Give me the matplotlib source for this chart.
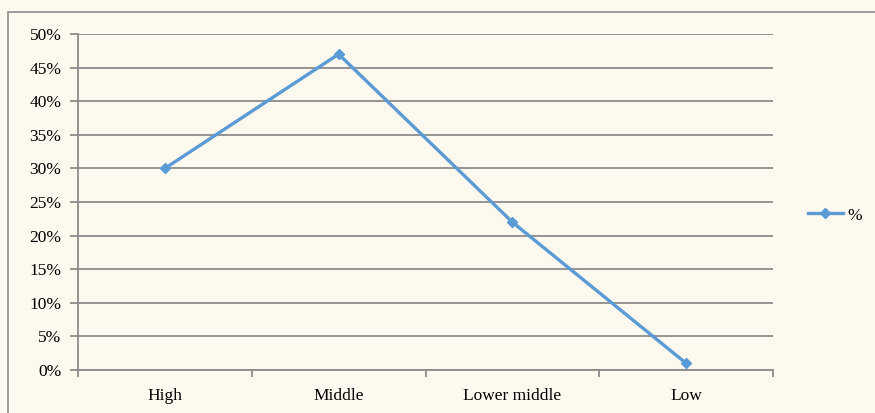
import matplotlib
matplotlib.use("Agg")
import matplotlib.pyplot as plt
from matplotlib.patches import Rectangle
from matplotlib.ticker import FuncFormatter, MultipleLocator

categories = ["High", "Middle", "Lower middle", "Low"]
share = [30, 47, 22, 1]
series_name = "%"

bg = "#FDF9EF"
grid_col = "#8C8C8C"
line_col = "#5B9BD5"

plt.rcParams["font.family"] = ["Liberation Serif", "DejaVu Serif"]

fig = plt.figure(figsize=(8.75, 4.13), dpi=100, facecolor=bg)
W, H = 875, 413

# outer chart frame
fig.patches.append(Rectangle((8 / W, -0.1), 1.0, (H - 12) / H + 0.1, transform=fig.transFigure,
                             facecolor=bg, edgecolor="#8C8C8C", linewidth=1.2, zorder=-5))

ax = fig.add_axes([78 / W, 1 - 370 / H, (773 - 78) / W, (370 - 34) / H])
ax.set_facecolor(bg)

x = list(range(len(categories)))
ax.plot(x, share, color=line_col, linewidth=2.4, marker="D", markersize=5,
        label=series_name, zorder=3)

ax.set_xlim(-0.5, len(categories) - 0.5)
ax.set_ylim(0, 50)
ax.yaxis.set_major_locator(MultipleLocator(5))
ax.yaxis.set_major_formatter(FuncFormatter(lambda v, p: f"{int(v)}%"))
ax.grid(axis="y", color=grid_col, linewidth=1.3)
ax.set_axisbelow(True)

ax.set_xticks(x)
ax.set_xticklabels(categories)
ax.set_xticks([i + 0.5 for i in range(-1, len(categories))], minor=True)
ax.tick_params(axis="x", which="major", length=0, pad=13, labelsize=12.5)
ax.tick_params(axis="x", which="minor", length=5, width=1.3, color=grid_col, direction="out")
ax.tick_params(axis="y", length=6, width=1.3, color=grid_col, pad=6, labelsize=12.5)

for side in ("top", "right"):
    ax.spines[side].set_visible(False)
for side in ("left", "bottom"):
    ax.spines[side].set_color(grid_col)
    ax.spines[side].set_linewidth(1.3)

leg = ax.legend(loc="center left", bbox_to_anchor=(1.028, 0.46), frameon=False,
                handlelength=2.0, handletextpad=0.25, fontsize=12.5)

fig.savefig("out.png", dpi=100, facecolor=bg)
